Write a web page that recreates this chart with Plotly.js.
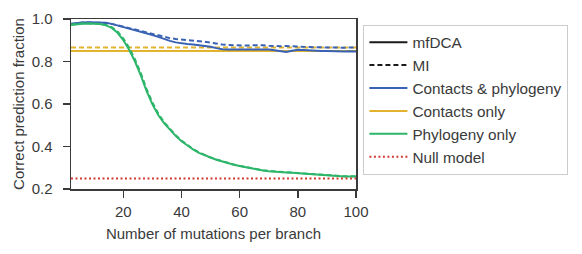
<!DOCTYPE html>
<html>
<head>
<meta charset="utf-8">
<script src="https://cdn.plot.ly/plotly-3.0.1.min.js"></script>
<style>html,body{margin:0;padding:0;background:#fff;}#chart{width:582px;height:254px;}</style>
</head>
<body>
<div id="chart"></div>
<script>
const mutations = [2,4,6,8,10,12,14,16,18,20,22,24,26,28,30,32,34,36,38,40,42,44,46,48,50,52,54,56,58,60,62,64,66,68,70,72,74,76,78,80,82,84,86,88,90,92,94,96,98,100];

const bothMfDCA = [0.978,0.982,0.984,0.985,0.985,0.984,0.982,0.977,0.970,0.962,0.954,0.946,0.939,0.932,0.925,0.916,0.906,0.897,0.890,0.885,0.882,0.880,0.877,0.873,0.869,0.863,0.858,0.857,0.857,0.857,0.857,0.858,0.859,0.858,0.856,0.853,0.850,0.845,0.851,0.855,0.854,0.852,0.851,0.850,0.850,0.848,0.847,0.847,0.848,0.847];
const bothMI = [0.976,0.981,0.983,0.984,0.984,0.983,0.981,0.977,0.971,0.964,0.958,0.951,0.944,0.937,0.930,0.922,0.915,0.910,0.906,0.904,0.902,0.900,0.897,0.893,0.889,0.884,0.880,0.878,0.876,0.875,0.875,0.876,0.877,0.876,0.874,0.872,0.872,0.873,0.871,0.871,0.870,0.868,0.867,0.866,0.866,0.866,0.866,0.865,0.866,0.866];
const contactsMfDCA = 0.850;
const contactsMI = 0.866;
const phyloMfDCA = [0.972,0.976,0.978,0.979,0.978,0.976,0.970,0.958,0.935,0.900,0.855,0.800,0.735,0.660,0.598,0.548,0.510,0.478,0.450,0.425,0.404,0.386,0.370,0.358,0.348,0.338,0.329,0.321,0.314,0.308,0.302,0.297,0.292,0.287,0.284,0.283,0.281,0.278,0.276,0.274,0.271,0.268,0.266,0.266,0.264,0.262,0.260,0.259,0.259,0.259];
const phyloMI = [0.974,0.978,0.980,0.980,0.979,0.977,0.972,0.962,0.941,0.908,0.864,0.810,0.745,0.670,0.607,0.555,0.515,0.482,0.453,0.428,0.406,0.388,0.372,0.359,0.348,0.339,0.330,0.322,0.315,0.309,0.303,0.298,0.293,0.288,0.285,0.284,0.282,0.279,0.277,0.275,0.272,0.269,0.267,0.267,0.265,0.263,0.261,0.260,0.260,0.260];
const nullModel = 0.25;

const seriesNames = ["mfDCA","MI","Contacts & phylogeny","Contacts only","Phylogeny only","Null model"];
const xTicks = [20,40,60,80,100];
const yTicks = [0.2,0.4,0.6,0.8,1.0];

const BLUE = "#3a62b3", YELLOW = "#e3b32e", GREEN = "#2db56a", RED = "#d33a2f", BLACK = "#1a1a1a";
const W = 2, DASH = "5px,3px";
const constArr = v => mutations.map(() => v);

const traces = [
  {x: mutations, y: constArr(contactsMI), mode: "lines", line: {color: YELLOW, width: W, dash: DASH}, showlegend: false, hoverinfo: "skip"},
  {x: mutations, y: constArr(contactsMfDCA), mode: "lines", line: {color: YELLOW, width: W}, name: seriesNames[3], legendrank: 4},
  {x: mutations, y: bothMI, mode: "lines", line: {color: BLUE, width: W, dash: DASH}, showlegend: false},
  {x: mutations, y: bothMfDCA, mode: "lines", line: {color: BLUE, width: W}, name: seriesNames[2], legendrank: 3},
  {x: mutations, y: phyloMI, mode: "lines", line: {color: GREEN, width: W, dash: DASH}, showlegend: false},
  {x: mutations, y: phyloMfDCA, mode: "lines", line: {color: GREEN, width: W}, name: seriesNames[4], legendrank: 5},
  {x: mutations, y: constArr(nullModel), mode: "lines", line: {color: RED, width: W, dash: "2px,2.5px"}, name: seriesNames[5], legendrank: 6},
  {x: [null], y: [null], mode: "lines", line: {color: BLACK, width: W}, name: seriesNames[0], legendrank: 1},
  {x: [null], y: [null], mode: "lines", line: {color: BLACK, width: W, dash: DASH}, name: seriesNames[1], legendrank: 2}
];

const font = {family: "Liberation Sans, Arial, sans-serif", size: 15, color: "#3a3a3a"};
const axisCommon = {
  showline: true, mirror: true, linecolor: "#3a3a3a", linewidth: 1.5,
  ticks: "outside", ticklen: 7, tickwidth: 1.5, tickcolor: "#3a3a3a",
  showgrid: false, zeroline: false, tickfont: font
};

const layout = {
  width: 582, height: 254,
  margin: {l: 71, r: 226, t: 19, b: 65},
  paper_bgcolor: "#fff", plot_bgcolor: "#fff",
  font: font,
  showlegend: true,
  legend: {
    x: 1.026, y: 0.966, xanchor: "left", yanchor: "top",
    bgcolor: "#fff", bordercolor: "#cccccc", borderwidth: 1,
    font: Object.assign({}, font, {size: 15.3}), traceorder: "normal", itemwidth: 38
  },
  xaxis: Object.assign({}, axisCommon, {
    range: [2, 100], tickvals: xTicks, ticktext: xTicks.map(String), ticklabelstandoff: 1,
    title: {text: "Number of mutations per branch", font: font, standoff: 10}
  }),
  yaxis: Object.assign({}, axisCommon, {
    range: [0.2, 1.0], tickvals: yTicks, ticktext: yTicks.map(v => v.toFixed(1)), ticklabelstandoff: 7,
    title: {text: "Correct prediction fraction", font: font, standoff: 3}
  })
};

Plotly.newPlot("chart", traces, layout, {displayModeBar: false, staticPlot: true});
</script>
</body>
</html>
